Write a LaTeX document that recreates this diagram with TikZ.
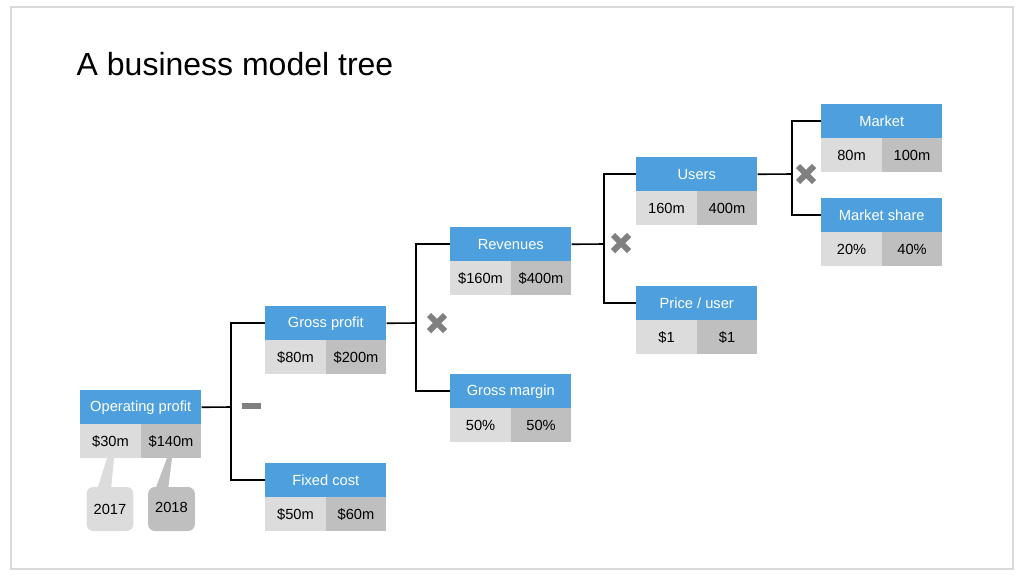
\documentclass[tikz,border=0pt]{standalone}
\usepackage{fontspec}
\setmainfont{Liberation Sans}
\begin{document}
\definecolor{hblue}{HTML}{4DA0DD}
\definecolor{cA}{HTML}{DCDCDC}
\definecolor{cB}{HTML}{BFBFBF}
\definecolor{opg}{HTML}{808080}
\begin{tikzpicture}[x=0.75pt,y=-0.75pt,
  hdr/.style={fill=hblue,text=white,minimum width=90.75pt,minimum height=25.5pt,inner sep=0pt,anchor=north west,font=\fontsize{11}{13}\selectfont},
  cell/.style={minimum width=45.375pt,minimum height=25.5pt,inner sep=0pt,anchor=north west,font=\fontsize{11}{13}\selectfont},
  con/.style={line width=1.2pt,black},
  call/.style={rounded corners=5pt,minimum width=35pt,minimum height=33pt,inner sep=0pt,font=\fontsize{11}{13}\selectfont}]
\useasboundingbox (0,0) rectangle (1024,576);
\draw[gray!30,line width=0.8pt] (11,7) rectangle (1013,569);
\node[anchor=base west,font=\fontsize{24}{28}\selectfont] (title) at (72,75) {A business model tree};
\newcommand\bnode[6]{%
  \node[hdr] (#1) at (#2,#3) {#4};
  \node[cell,fill=cA] (#1a) at (#2,#3+34) {#5};
  \node[cell,fill=cB] (#1b) at (#2+60.5,#3+34) {#6};}
\bnode{op}{80}{390}{Operating profit}{\$30m}{\$140m}
\bnode{gp}{265}{306}{Gross profit}{\$80m}{\$200m}
\bnode{fc}{265}{463}{Fixed cost}{\$50m}{\$60m}
\bnode{rev}{450}{227}{Revenues}{\$160m}{\$400m}
\bnode{gm}{450}{374}{Gross margin}{50\%}{50\%}
\bnode{us}{636}{157}{Users}{160m}{400m}
\bnode{pu}{636}{286}{Price / user}{\$1}{\$1}
\bnode{mk}{821}{104}{Market}{80m}{100m}
\bnode{ms}{821}{198}{Market share}{20\%}{40\%}
% connectors
\draw[con] (op.east) -- (231,407) coordinate (j1);
\draw[con] (gp.west) -| (j1) |- (fc.west);
\draw[con] (gp.east) -- (416,323) coordinate (j2);
\draw[con] (rev.west) -| (j2) |- (gm.west);
\draw[con] (rev.east) -- (604,244) coordinate (j3);
\draw[con] (us.west) -| (j3) |- (pu.west);
\draw[con] (us.east) -- (792,174) coordinate (j4);
\draw[con] (mk.west) -| (j4) |- (ms.west);
% operators
\draw[line width=5pt,opg] (242,406) -- (261,406);
\foreach \cx/\cy in {437/323,621/243,806/174}{
  \draw[line width=4.5pt,opg] (\cx-8,\cy-8) -- (\cx+8,\cy+8) (\cx-8,\cy+8) -- (\cx+8,\cy-8);}
% callouts
\fill[cA] (97,490) -- (107,458) -- (114,458) -- (111,490) -- cycle;
\node[call,fill=cA] (y17) at (110,509) {2017};
\fill[cB] (155,490) -- (167,458) -- (172,458) -- (168,490) -- cycle;
\node[call,fill=cB] (y18) at (171.5,509) {\raisebox{3pt}{2018}};
\end{tikzpicture}
\end{document}
